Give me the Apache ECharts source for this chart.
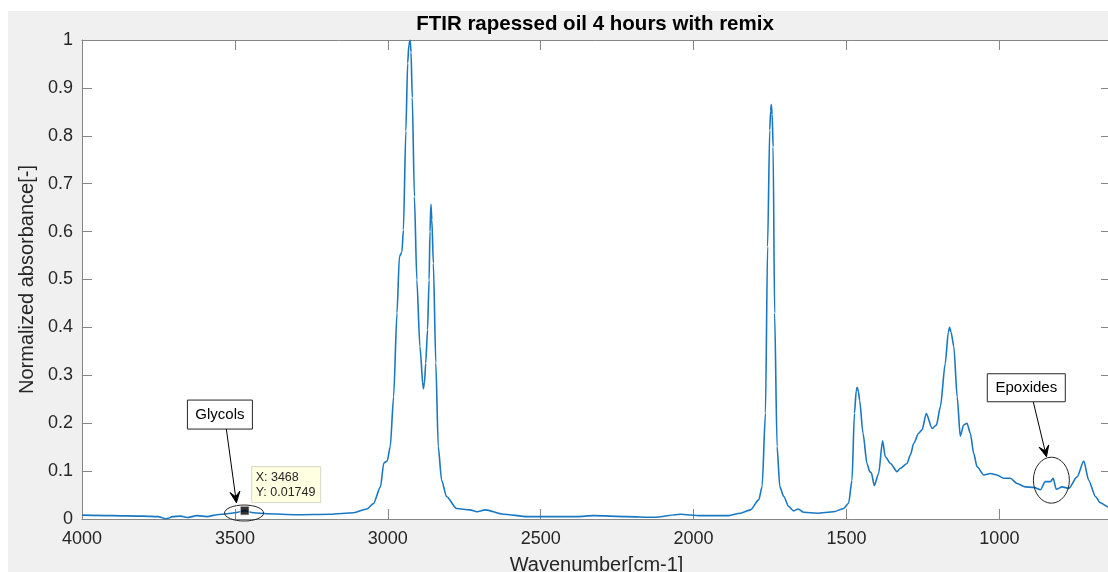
<!DOCTYPE html>
<html>
<head>
<meta charset="utf-8">
<title>FTIR rapessed oil 4 hours with remix</title>
<script src="https://cdn.jsdelivr.net/npm/echarts@6/dist/echarts.min.js"></script>
<style>
  html, body { margin: 0; padding: 0; background: #ffffff; }
  #chart { width: 1108px; height: 572px; }
</style>
</head>
<body>
<div id="chart"></div>
<script>
// FTIR spectrum: wavenumber [cm-1] and normalized absorbance [-]
const wavenumbers = [
  4000, 3900, 3800, 3750, 3735, 3727, 3716, 3705, 3678, 3656, 3624, 3591, 3558, 3525, 3500,
  3468, 3440, 3396, 3298, 3188, 3112, 3068, 3047, 3024, 3013, 3002, 2992, 2981, 2970, 2962,
  2954, 2949, 2941, 2935, 2931, 2927, 2924, 2920, 2913, 2905, 2895, 2884, 2880, 2876, 2870,
  2865, 2862, 2859, 2856, 2851, 2843, 2835, 2824, 2808, 2775, 2732, 2708, 2681, 2622, 2544,
  2381, 2328, 2217, 2130, 2043, 1978, 1890, 1847, 1814, 1787, 1776, 1765, 1758, 1751, 1748,
  1746, 1743, 1740, 1735, 1727, 1718, 1705, 1689, 1673, 1658, 1640, 1596, 1542, 1509, 1493,
  1482, 1474, 1468, 1465, 1461, 1457, 1446, 1433, 1424, 1419, 1409, 1395, 1382, 1373, 1356,
  1335, 1324, 1302, 1291, 1280, 1264, 1253, 1239, 1220, 1206, 1193, 1177, 1167, 1163, 1158,
  1149, 1138, 1128, 1117, 1106, 1095, 1084, 1073, 1051, 1029, 1008, 986, 964, 942, 915,
  888, 866, 850, 833, 824, 814, 795, 773, 746, 724, 708, 686, 670, 644, 635
];
const absorbance = [
  0.008, 0.007, 0.006, 0.005, 0.002, 0.000, 0.002, 0.005, 0.006, 0.003, 0.007, 0.005, 0.009, 0.011, 0.013,
  0.0175, 0.013, 0.011, 0.009, 0.010, 0.013, 0.021, 0.032, 0.067, 0.117, 0.121, 0.151, 0.255, 0.430, 0.548,
  0.557, 0.603, 0.810, 0.952, 0.990, 1.000, 0.975, 0.880, 0.673, 0.499, 0.360, 0.272, 0.285, 0.325, 0.395,
  0.499, 0.600, 0.657, 0.625, 0.534, 0.326, 0.151, 0.081, 0.047, 0.022, 0.019, 0.015, 0.019, 0.010, 0.005,
  0.005, 0.007, 0.005, 0.0035, 0.010, 0.007, 0.007, 0.012, 0.019, 0.040, 0.067, 0.221, 0.569, 0.812, 0.852,
  0.865, 0.845, 0.777, 0.430, 0.151, 0.067, 0.047, 0.026, 0.017, 0.021, 0.014, 0.012, 0.015, 0.022, 0.033,
  0.081, 0.221, 0.268, 0.275, 0.266, 0.248, 0.179, 0.116, 0.099, 0.097, 0.070, 0.095, 0.163, 0.130, 0.116,
  0.099, 0.106, 0.116, 0.134, 0.158, 0.179, 0.186, 0.220, 0.189, 0.196, 0.234, 0.325, 0.390, 0.400, 0.390,
  0.360, 0.255, 0.173, 0.196, 0.200, 0.179, 0.137, 0.109, 0.092, 0.095, 0.092, 0.085, 0.085, 0.074, 0.067,
  0.066, 0.061, 0.078, 0.078, 0.085, 0.062, 0.067, 0.064, 0.088, 0.121, 0.081, 0.047, 0.034, 0.025, 0.022
];

// Data tip on the glycol band
const tipPoint = [3468, 0.01749];
const tipLines = ['X: 3468', 'Y: 0.01749'];

// Axis settings
const xRange = [635, 4000];
const yRange = [0, 1];
const yStep = 0.1;

const titleText = 'FTIR rapessed oil 4 hours with remix';
const xName = 'Wavenumber[cm-1]';
const yName = 'Normalized absorbance[-]';

// Annotation labels, anchored in data units
const notes = [
  { text: 'Glycols',  box: [3549, 0.218], w: 65, h: 29,
    arrowFrom: [3528, 0.188], arrowTo: [3495, 0.034],
    ring: [3470, 0.0125], rx: 19.5, ry: 8 },
  { text: 'Epoxides', box: [912, 0.274], w: 78, h: 28,
    arrowFrom: [889, 0.244], arrowTo: [846, 0.130],
    ring: [830, 0.081], rx: 18, ry: 23 }
];

const FONT = '"Liberation Sans", Arial, Helvetica, sans-serif';
const AXIS_COLOR = '#868686';
const TEXT_COLOR = '#262626';
const LINE_COLOR = '#1a78c2';

const seriesData = wavenumbers.map((w, i) => [w, absorbance[i]]);

function xAxisCfg(position, showLabels) {
  return {
    type: 'value',
    position: position,
    inverse: true,
    min: xRange[0],
    max: xRange[1],
    splitNumber: 7,
    name: showLabels ? xName : '',
    nameLocation: 'middle',
    nameGap: 36,
    nameTextStyle: { fontFamily: FONT, fontSize: 20, color: TEXT_COLOR },
    axisLine: { show: true, onZero: false, lineStyle: { color: AXIS_COLOR, width: 1 } },
    axisTick: { show: true, inside: true, length: 10, lineStyle: { color: AXIS_COLOR, width: 1 } },
    axisLabel: {
      show: showLabels,
      margin: 11,
      fontFamily: FONT, fontSize: 18, color: TEXT_COLOR,
      formatter: v => (v % 500 === 0 ? String(v) : '')
    },
    splitLine: { show: false }
  };
}

function yAxisCfg(position, showLabels) {
  return {
    type: 'value',
    position: position,
    min: yRange[0],
    max: yRange[1],
    interval: yStep,
    name: showLabels ? yName : '',
    nameLocation: 'middle',
    nameGap: 37,
    nameTextStyle: { fontFamily: FONT, fontSize: 20, color: TEXT_COLOR },
    axisLine: { show: true, lineStyle: { color: AXIS_COLOR, width: 1 } },
    axisTick: { show: true, inside: true, length: 10, lineStyle: { color: AXIS_COLOR, width: 1 } },
    axisLabel: {
      show: showLabels,
      margin: 9,
      fontFamily: FONT, fontSize: 18, color: TEXT_COLOR,
      formatter: v => String(Math.round(v * 10) / 10)
    },
    splitLine: { show: false }
  };
}

const chart = echarts.init(document.getElementById('chart'), null, { renderer: 'canvas' });

chart.setOption({
  animation: false,
  backgroundColor: '#f0f0f0',
  title: {
    text: titleText,
    left: 590,
    textAlign: 'center',
    top: 9,
    textStyle: { fontFamily: FONT, fontSize: 20.5, fontWeight: 'bold', color: '#000000' }
  },
  grid: {
    left: 82, right: -3, top: 40, bottom: 53,
    show: true, backgroundColor: '#ffffff', borderWidth: 0,
    containLabel: false,
    outerBoundsMode: 'none'
  },
  xAxis: [xAxisCfg('bottom', true), xAxisCfg('top', false)],
  yAxis: [yAxisCfg('left', true), yAxisCfg('right', false)],
  series: [
    {
      type: 'line',
      xAxisIndex: 0, yAxisIndex: 0,
      data: seriesData,
      showSymbol: false,
      smooth: 0.25,
      smoothMonotone: 'x',
      lineStyle: { color: LINE_COLOR, width: 1.6 },
      z: 2
    },
    {
      type: 'scatter',
      xAxisIndex: 0, yAxisIndex: 0,
      data: [tipPoint],
      symbol: 'rect',
      symbolSize: 9,
      itemStyle: { color: '#000000', borderColor: '#ffffff', borderWidth: 1 },
      z: 5
    }
  ],
  graphic: [
    { type: 'rect', id: 'stripTop', shape: { x: 0, y: 0, width: 1108, height: 11 }, style: { fill: '#ffffff' } },
    { type: 'rect', id: 'stripLeft', shape: { x: 0, y: 0, width: 8, height: 572 }, style: { fill: '#ffffff' } }
  ]
});

// Annotations: boxes, arrows and rings placed through the axes' scales
const px = p => chart.convertToPixel({ xAxisIndex: 0, yAxisIndex: 0 }, p);

function arrowHead(from, to, len, half) {
  const dx = to[0] - from[0], dy = to[1] - from[1];
  const d = Math.hypot(dx, dy);
  const ux = dx / d, uy = dy / d;
  const nx = -uy, ny = ux;
  const bx = to[0] - ux * len, by = to[1] - uy * len;
  const mx = to[0] - ux * len * 0.55, my = to[1] - uy * len * 0.55;
  return [
    [to[0], to[1]],
    [bx + nx * half, by + ny * half],
    [mx, my],
    [bx - nx * half, by - ny * half]
  ];
}

const extra = [];
notes.forEach((n, i) => {
  const c = px(n.box);
  const a0 = px(n.arrowFrom);
  const a1 = px(n.arrowTo);
  const r = px(n.ring);
  extra.push({
    type: 'rect', id: 'box' + i, z: 20,
    shape: { x: c[0] - n.w / 2, y: c[1] - n.h / 2, width: n.w, height: n.h },
    style: { fill: '#ffffff', stroke: '#262626', lineWidth: 1 }
  });
  extra.push({
    type: 'text', id: 'boxText' + i, z: 21,
    style: {
      x: c[0], y: c[1], text: n.text, align: 'center', verticalAlign: 'middle',
      font: '15px ' + FONT, fill: '#000000'
    }
  });
  extra.push({
    type: 'line', id: 'arrow' + i, z: 20,
    shape: { x1: a0[0], y1: a0[1], x2: a1[0], y2: a1[1] },
    style: { stroke: '#000000', lineWidth: 1 }
  });
  extra.push({
    type: 'polygon', id: 'head' + i, z: 20,
    shape: { points: arrowHead(a0, a1, 11, 5) },
    style: { fill: '#000000', stroke: '#000000', lineWidth: 1 }
  });
  extra.push({
    type: 'ellipse', id: 'ring' + i, z: 20,
    shape: { cx: r[0], cy: r[1], rx: n.rx, ry: n.ry },
    style: { fill: 'none', stroke: '#262626', lineWidth: 1 }
  });
});

// Data tip box next to the marked point
const tp = px(tipPoint);
extra.push({
  type: 'rect', id: 'tipBox', z: 22,
  shape: { x: tp[0] + 7, y: tp[1] - 44, width: 69, height: 36 },
  style: { fill: '#ffffe1', stroke: '#d6d6c8', lineWidth: 1 }
});
extra.push({
  type: 'text', id: 'tipText', z: 23,
  style: {
    x: tp[0] + 11, y: tp[1] - 26, text: tipLines.join('\n'),
    align: 'left', verticalAlign: 'middle', lineHeight: 15,
    font: '12.5px ' + FONT, fill: '#262626'
  }
});

chart.setOption({ graphic: extra });
</script>
</body>
</html>
